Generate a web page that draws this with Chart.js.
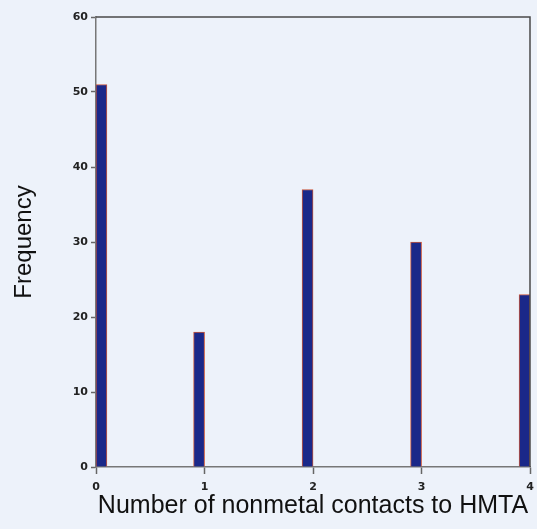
<!DOCTYPE html>
<html>
<head>
<meta charset="utf-8">
<script src="https://cdn.jsdelivr.net/npm/chart.js@4/dist/chart.umd.min.js"></script>
<style>
  html, body { margin: 0; padding: 0; background: #edf2fa; }
  #wrap { width: 537px; height: 529px; }
</style>
</head>
<body>
<div id="wrap"><canvas id="histChart" width="537" height="529"></canvas></div>
<script>
// Jumlah kontak nonmetal ke HMTA dan frekuensinya
const kontak = [0, 1, 2, 3, 4];
const frekuensi = [51, 18, 37, 30, 23];
const tickY = [0, 10, 20, 30, 40, 50, 60];

// batang digeser sedikit ke kiri dari garis tick (yang pertama ke kanan)
const geser = 0.05;
const dataBatang = kontak.map((k, i) => ({
  x: k === 0 ? k + geser : k - geser,
  y: frekuensi[i],
}));

// latar belakang + bingkai atas dan kanan
const bingkai = {
  id: "bingkai",
  beforeDraw(chart) {
    const ctx = chart.ctx;
    ctx.save();
    ctx.fillStyle = "#edf2fa";
    ctx.fillRect(0, 0, chart.width, chart.height);
    ctx.restore();
  },
  afterDraw(chart) {
    const { left, right, top, bottom } = chart.chartArea;
    const ctx = chart.ctx;
    ctx.save();
    ctx.strokeStyle = "#4a4a4a";
    ctx.lineWidth = 1.5;
    ctx.beginPath();
    ctx.moveTo(left, top);
    ctx.lineTo(right, top);
    ctx.lineTo(right, bottom);
    ctx.stroke();
    ctx.restore();
  },
};

const ctxHist = document.getElementById("histChart").getContext("2d");
new Chart(ctxHist, {
  type: "bar",
  data: {
    datasets: [
      {
        label: "Frequency",
        data: dataBatang,
        backgroundColor: "#1a2889",
        borderColor: "#c8563c",
        borderWidth: 1,
        barThickness: 11,
      },
    ],
  },
  options: {
    responsive: false,
    animation: false,
    layout: { padding: { top: 17, right: 7, left: 0, bottom: 0 } },
    plugins: {
      legend: { display: false },
      tooltip: { enabled: false },
    },
    scales: {
      x: {
        type: "linear",
        min: 0,
        max: 4,
        offset: false,
        afterFit: (s) => {
          s.height = 62;
          s.paddingLeft = 0;
          s.paddingRight = 0;
        },
        afterBuildTicks: (s) => { s.ticks = kontak.map((v) => ({ value: v })); },
        grid: { offset: false, drawOnChartArea: false, tickLength: 7, color: "#666", tickWidth: 1.5 },
        border: { color: "#777", width: 1.5 },
        ticks: {
          padding: 7,
          color: "#222",
          font: { family: "DejaVu Sans", size: 11, weight: "bold" },
          maxRotation: 0,
        },
        title: {
          display: true,
          text: "Number of nonmetal contacts to HMTA",
          color: "#111",
          font: { family: "Liberation Sans", size: 25 },
          padding: { top: 0, bottom: 8 },
        },
      },
      y: {
        min: 0,
        max: 60,
        afterFit: (s) => {
          s.width = 96;
          s.paddingTop = 0;
          s.paddingBottom = 0;
        },
        afterBuildTicks: (s) => { s.ticks = tickY.map((v) => ({ value: v })); },
        grid: { drawOnChartArea: false, tickLength: 5, color: "#666", tickWidth: 1.5 },
        border: { color: "#777", width: 1.5 },
        ticks: {
          padding: 3,
          color: "#222",
          font: { family: "DejaVu Sans", size: 11, weight: "bold" },
        },
        title: {
          display: true,
          text: "Frequency",
          color: "#111",
          font: { family: "Liberation Sans", size: 24 },
          padding: { top: 10, bottom: 0 },
        },
      },
    },
  },
  plugins: [bingkai],
});
</script>
</body>
</html>
